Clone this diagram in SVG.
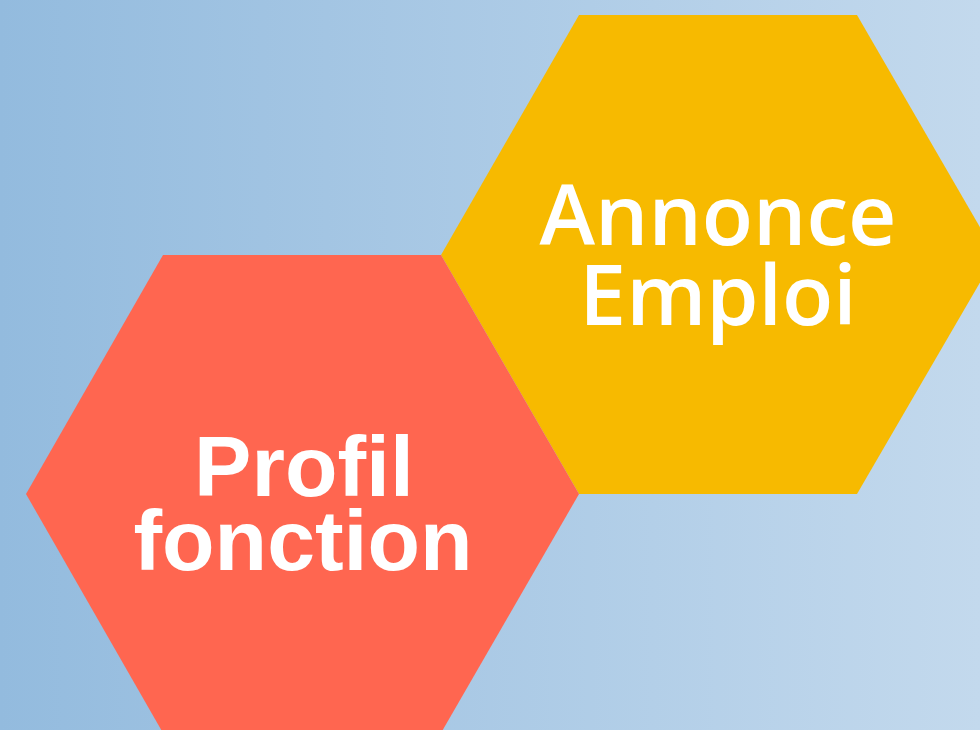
<svg xmlns="http://www.w3.org/2000/svg" width="980" height="730" viewBox="0 0 980 730">
<defs>
<linearGradient id="bg" x1="0" y1="0" x2="1" y2="0">
<stop offset="0" stop-color="#93bbde"/>
<stop offset="1" stop-color="#c3d9ed"/>
</linearGradient>
</defs>
<style>
.lbl{fill:#ffffff;text-anchor:middle}
.a{font-family:"Open Sans","DejaVu Sans",sans-serif;font-weight:600;font-size:84px}
.p{font-family:"Liberation Sans",Arial,sans-serif;font-weight:700;font-size:86px}
</style>
<rect x="0" y="0" width="980" height="730" fill="url(#bg)"/>
<g id="annonce">
<polygon points="441,255 579,15 857,15 996,255 857,494 579,494" fill="#f7ba00"/>
<text class="lbl a" x="718" y="245">Annonce</text>
<text class="lbl a" x="718" y="325">Emploi</text>
</g>
<g id="profil">
<polygon points="26,494 163,255 441,255 579,494 441,733 163,733" fill="#ff6650"/>
<text class="lbl p" x="304" y="496">Profil</text>
<text class="lbl p" x="303" y="570">fonction</text>
</g>
<g id="connectors"/>
</svg>
